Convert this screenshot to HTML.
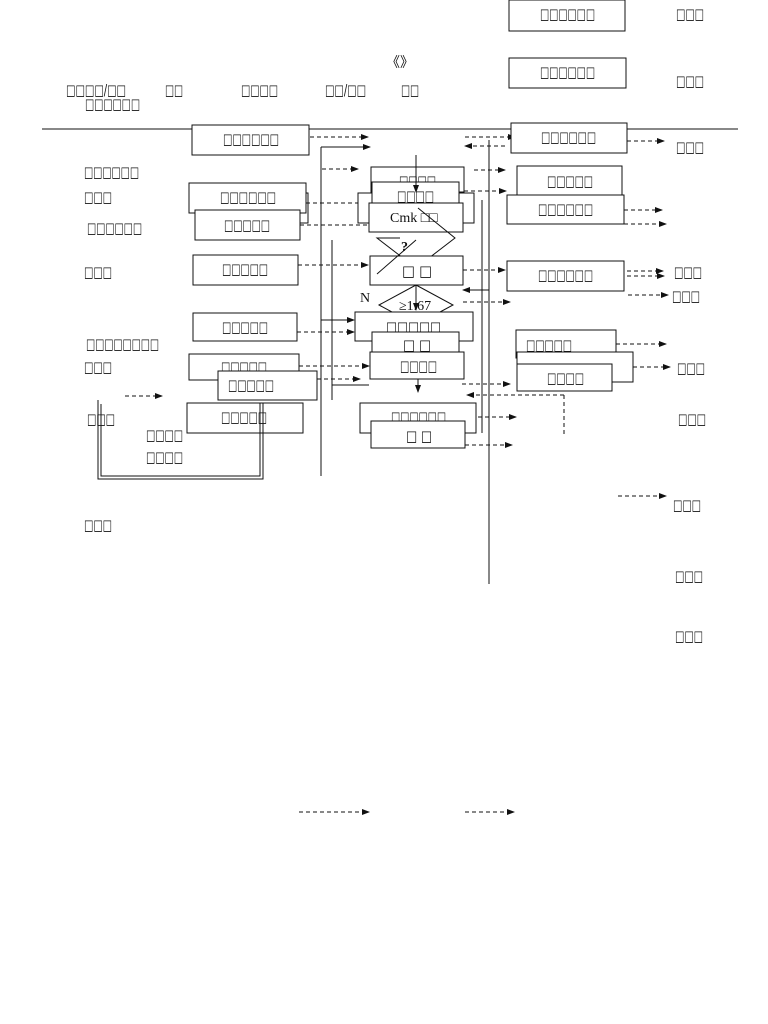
<!DOCTYPE html>
<html><head><meta charset="utf-8"><style>
html,body{margin:0;padding:0;background:#fff;}
svg{display:block}
text{font-family:"DejaVu Sans","Liberation Sans",sans-serif;font-size:15px;fill:#111}
.s{font-family:"Liberation Serif",serif;font-size:14px}
rect{fill:#fff;stroke:#111;stroke-width:1}
line,polyline,polygon{stroke:#111;stroke-width:1;fill:none}
.d{stroke-dasharray:4,3}
</style></head><body>
<svg width="768" height="1024" viewBox="0 0 768 1024" xmlns="http://www.w3.org/2000/svg">
<defs><marker id="a" markerWidth="8" markerHeight="6" refX="7" refY="3" orient="auto"><path d="M0,0 L8,3 L0,6 z" fill="#111"/></marker></defs>

<rect x="509" y="0" width="116" height="31"/><text x="540" y="19" textLength="55" lengthAdjust="spacingAndGlyphs">□□□□□□</text>
<rect x="509" y="58" width="117" height="30"/><text x="540" y="77" textLength="55" lengthAdjust="spacingAndGlyphs">□□□□□□</text>
<text x="676" y="19" textLength="28" lengthAdjust="spacingAndGlyphs">□□□</text>
<text x="676" y="86" textLength="28" lengthAdjust="spacingAndGlyphs">□□□</text>
<text x="386" y="67" class="s" font-size="19">《》</text>

<text x="66" y="95" textLength="60" lengthAdjust="spacingAndGlyphs">□□□□/□□</text>
<text x="165" y="95" textLength="18" lengthAdjust="spacingAndGlyphs">□□</text>
<text x="241" y="95" textLength="37" lengthAdjust="spacingAndGlyphs">□□□□</text>
<text x="325" y="95" textLength="41" lengthAdjust="spacingAndGlyphs">□□/□□</text>
<text x="401" y="95" textLength="18" lengthAdjust="spacingAndGlyphs">□□</text>
<text x="85" y="109" textLength="55" lengthAdjust="spacingAndGlyphs">□□□□□□</text>
<line x1="42" y1="129" x2="738" y2="129"/>

<line x1="489" y1="140" x2="489" y2="584"/>
<line x1="321" y1="147" x2="321" y2="476"/>
<polyline points="321,147 370,147" marker-end="url(#a)"/>
<line x1="332" y1="240" x2="332" y2="400"/>
<line x1="482" y1="200" x2="482" y2="433"/>

<rect x="192" y="125" width="117" height="30"/><text x="223" y="144" textLength="56" lengthAdjust="spacingAndGlyphs">□□□□□□</text>
<line class="d" x1="310" y1="137" x2="368" y2="137" marker-end="url(#a)"/>
<line class="d" x1="322" y1="169" x2="358" y2="169" marker-end="url(#a)"/>
<rect x="195" y="193" width="113" height="30"/>
<rect x="189" y="183" width="117" height="30"/><text x="220" y="202" textLength="56" lengthAdjust="spacingAndGlyphs">□□□□□□</text>
<rect x="195" y="210" width="105" height="30"/><text x="224" y="230" textLength="46" lengthAdjust="spacingAndGlyphs">□□□□□</text>
<line class="d" x1="306" y1="203" x2="370" y2="203" marker-end="url(#a)"/>
<line class="d" x1="300" y1="225" x2="370" y2="225"/>
<rect x="193" y="255" width="105" height="30"/><text x="222" y="274" textLength="46" lengthAdjust="spacingAndGlyphs">□□□□□</text>
<line class="d" x1="298" y1="265" x2="368" y2="265" marker-end="url(#a)"/>
<rect x="193" y="313" width="104" height="28"/><text x="222" y="332" textLength="46" lengthAdjust="spacingAndGlyphs">□□□□□</text>
<line class="d" x1="297" y1="332" x2="354" y2="332" marker-end="url(#a)"/>
<line x1="321" y1="320" x2="354" y2="320" marker-end="url(#a)"/>
<rect x="189" y="354" width="110" height="26"/><text x="221" y="372" textLength="46" lengthAdjust="spacingAndGlyphs">□□□□□</text>
<line class="d" x1="299" y1="366" x2="369" y2="366" marker-end="url(#a)"/>
<rect x="218" y="371" width="99" height="29"/><text x="228" y="390" textLength="46" lengthAdjust="spacingAndGlyphs">□□□□□</text>
<line class="d" x1="317" y1="379" x2="360" y2="379" marker-end="url(#a)"/>
<line x1="332" y1="385" x2="369" y2="385"/>
<rect x="187" y="403" width="116" height="30"/><text x="221" y="422" textLength="46" lengthAdjust="spacingAndGlyphs">□□□□□</text>

<text x="84" y="177" textLength="55" lengthAdjust="spacingAndGlyphs">□□□□□□</text>
<text x="84" y="202" textLength="28" lengthAdjust="spacingAndGlyphs">□□□</text>
<text x="87" y="233" textLength="55" lengthAdjust="spacingAndGlyphs">□□□□□□</text>
<text x="84" y="277" textLength="28" lengthAdjust="spacingAndGlyphs">□□□</text>
<text x="86" y="349" textLength="73" lengthAdjust="spacingAndGlyphs">□□□□□□□□</text>
<text x="84" y="372" textLength="28" lengthAdjust="spacingAndGlyphs">□□□</text>
<text x="87" y="424" textLength="28" lengthAdjust="spacingAndGlyphs">□□□</text>
<text x="146" y="440" textLength="37" lengthAdjust="spacingAndGlyphs">□□□□</text>
<text x="146" y="462" textLength="37" lengthAdjust="spacingAndGlyphs">□□□□</text>
<text x="84" y="530" textLength="28" lengthAdjust="spacingAndGlyphs">□□□</text>
<line class="d" x1="125" y1="396" x2="162" y2="396" marker-end="url(#a)"/>
<polyline points="98,400 98,479 263,479 263,403"/>
<polyline points="101,404 101,476 260,476 260,403"/>

<rect x="371" y="167" width="93" height="25"/><text x="399" y="186" textLength="37" lengthAdjust="spacingAndGlyphs">□□□□</text>
<rect x="358" y="193" width="116" height="30"/>
<rect x="372" y="182" width="87" height="26"/><text x="397" y="201" textLength="37" lengthAdjust="spacingAndGlyphs">□□□□</text>
<rect x="369" y="203" width="94" height="29"/><text x="390" y="222" class="s">Cmk □□</text>
<line x1="416" y1="155" x2="416" y2="192" marker-end="url(#a)"/>
<polyline points="418,208 455,238 416,268 377,238 400,238"/>
<text x="401" y="251" class="s" font-weight="bold">?</text>
<rect x="370" y="256" width="93" height="29"/><text x="402" y="276" textLength="30" lengthAdjust="spacingAndGlyphs">□ □</text>
<line x1="377" y1="274" x2="416" y2="240"/>
<polygon points="379,305 416,285 453,305 416,325" style="fill:#fff"/>
<text x="399" y="310" class="s" font-size="13">≥1.67</text>
<text x="360" y="302" class="s" font-size="12">N</text>
<line x1="416" y1="285" x2="416" y2="310" marker-end="url(#a)"/>
<rect x="355" y="312" width="118" height="29"/><text x="386" y="332" textLength="55" lengthAdjust="spacingAndGlyphs">□□□□□</text>
<rect x="372" y="332" width="87" height="23"/><text x="403" y="350" textLength="28" lengthAdjust="spacingAndGlyphs">□ □</text>
<rect x="370" y="352" width="94" height="27"/><text x="400" y="371" textLength="37" lengthAdjust="spacingAndGlyphs">□□□□</text>
<line x1="418" y1="379" x2="418" y2="392" marker-end="url(#a)"/>
<rect x="360" y="403" width="116" height="30"/><text x="391" y="422" textLength="55" lengthAdjust="spacingAndGlyphs">□□□□□□</text>
<rect x="371" y="421" width="94" height="27"/><text x="406" y="441" textLength="26" lengthAdjust="spacingAndGlyphs">□ □</text>
<line class="d" x1="474" y1="170" x2="505" y2="170" marker-end="url(#a)"/>
<line class="d" x1="464" y1="191" x2="506" y2="191" marker-end="url(#a)"/>
<line class="d" x1="463" y1="270" x2="505" y2="270" marker-end="url(#a)"/>
<line class="d" x1="463" y1="302" x2="510" y2="302" marker-end="url(#a)"/>
<line x1="489" y1="290" x2="463" y2="290" marker-end="url(#a)"/>
<line class="d" x1="462" y1="384" x2="510" y2="384" marker-end="url(#a)"/>
<line class="d" x1="478" y1="417" x2="516" y2="417" marker-end="url(#a)"/>
<line class="d" x1="465" y1="445" x2="512" y2="445" marker-end="url(#a)"/>
<line class="d" x1="465" y1="137" x2="515" y2="137" marker-end="url(#a)"/>
<line class="d" x1="505" y1="146" x2="465" y2="146" marker-end="url(#a)"/>

<rect x="511" y="123" width="116" height="30"/><text x="541" y="142" textLength="55" lengthAdjust="spacingAndGlyphs">□□□□□□</text>
<line class="d" x1="627" y1="141" x2="664" y2="141" marker-end="url(#a)"/>
<text x="676" y="152" textLength="28" lengthAdjust="spacingAndGlyphs">□□□</text>
<rect x="517" y="166" width="105" height="29"/><text x="547" y="186" textLength="46" lengthAdjust="spacingAndGlyphs">□□□□□</text>
<rect x="507" y="195" width="117" height="29"/><text x="538" y="214" textLength="55" lengthAdjust="spacingAndGlyphs">□□□□□□</text>
<line class="d" x1="624" y1="210" x2="662" y2="210" marker-end="url(#a)"/>
<line class="d" x1="624" y1="224" x2="666" y2="224" marker-end="url(#a)"/>
<rect x="507" y="261" width="117" height="30"/><text x="538" y="280" textLength="55" lengthAdjust="spacingAndGlyphs">□□□□□□</text>
<line class="d" x1="627" y1="271" x2="663" y2="271" marker-end="url(#a)"/>
<line class="d" x1="627" y1="276" x2="664" y2="276" marker-end="url(#a)"/>
<line class="d" x1="628" y1="295" x2="668" y2="295" marker-end="url(#a)"/>
<text x="674" y="277" textLength="28" lengthAdjust="spacingAndGlyphs">□□□</text>
<text x="672" y="301" textLength="28" lengthAdjust="spacingAndGlyphs">□□□</text>
<rect x="516" y="330" width="100" height="28"/><text x="526" y="350" textLength="46" lengthAdjust="spacingAndGlyphs">□□□□□</text>
<line class="d" x1="616" y1="344" x2="666" y2="344" marker-end="url(#a)"/>
<rect x="517" y="352" width="116" height="30"/>
<rect x="517" y="364" width="95" height="27"/><text x="547" y="383" textLength="37" lengthAdjust="spacingAndGlyphs">□□□□</text>
<line class="d" x1="633" y1="367" x2="670" y2="367" marker-end="url(#a)"/>
<text x="677" y="373" textLength="28" lengthAdjust="spacingAndGlyphs">□□□</text>
<line class="d" x1="564" y1="395" x2="564" y2="434"/>
<line class="d" x1="564" y1="395" x2="467" y2="395" marker-end="url(#a)"/>
<text x="678" y="424" textLength="28" lengthAdjust="spacingAndGlyphs">□□□</text>
<line class="d" x1="618" y1="496" x2="666" y2="496" marker-end="url(#a)"/>
<text x="673" y="510" textLength="28" lengthAdjust="spacingAndGlyphs">□□□</text>
<text x="675" y="581" textLength="28" lengthAdjust="spacingAndGlyphs">□□□</text>
<text x="675" y="641" textLength="28" lengthAdjust="spacingAndGlyphs">□□□</text>

<line class="d" x1="299" y1="812" x2="369" y2="812" marker-end="url(#a)"/>
<line class="d" x1="465" y1="812" x2="514" y2="812" marker-end="url(#a)"/>
</svg>
</body></html>
